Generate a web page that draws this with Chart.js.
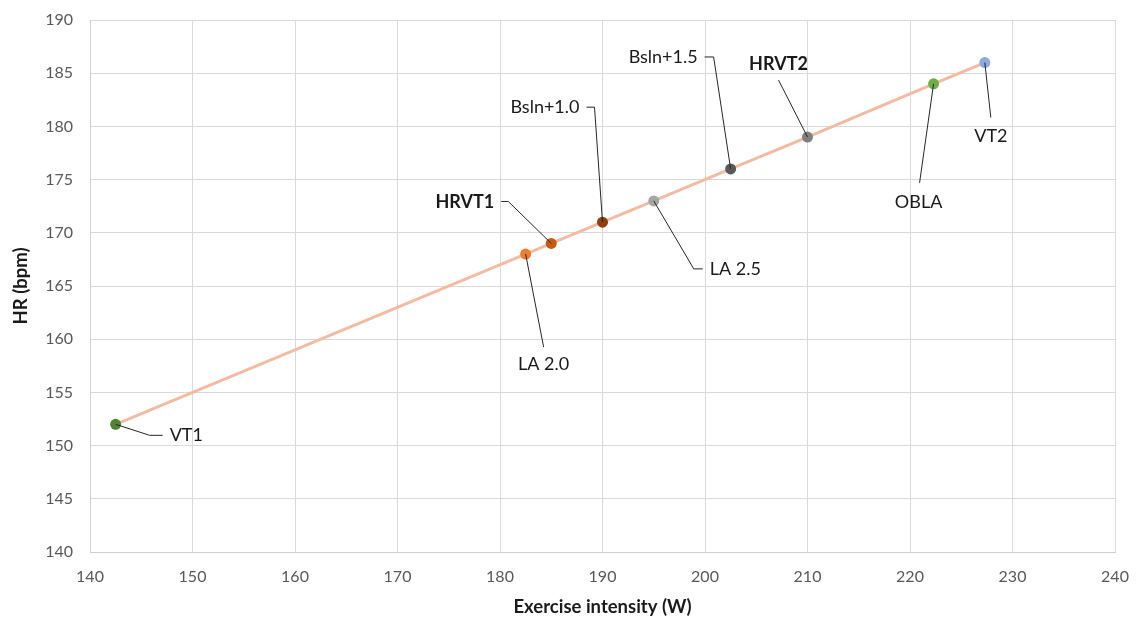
<!DOCTYPE html>
<html>
<head>
<meta charset="utf-8">
<script src="https://cdn.jsdelivr.net/npm/chart.js@4.4.1/dist/chart.umd.min.js"></script>
<style>
html,body{margin:0;padding:0;background:#fff;}
#wrap{width:1136px;height:621px;position:relative;}
</style>
</head>
<body>
<div id="wrap"><canvas id="c" width="1136" height="621"></canvas></div>
<script>
// ---- data ----
const pointNames = ["VT1","LA 2.0","HRVT1","Bsln+1.0","LA 2.5","Bsln+1.5","HRVT2","OBLA","VT2"];
const intensityW = [142.5,182.5,185,190,195,202.5,210,222.3,227.3];
const heartRate = [152,168,169,171,173,176,179,184,186];
const boldNames = ["HRVT1","HRVT2"];
const xTicks = [140,150,160,170,180,190,200,210,220,230,240];
const yTicks = [140,145,150,155,160,165,170,175,180,185,190];

// ---- styles ----
const pointColors = ["#548235","#ed7d31","#c55a11","#8e3f0a","#a5a5a5","#595959","#808080","#70ad47","#8faadc"];
// leader geometry, pixel offsets relative to the point: elbow, end, text anchor, alignment
const leaders = [
  {e:[34,11], f:[47,11], t:[54,11], a:"left"},
  {e:[18,93], f:[18,93], t:[18,110], a:"center"},
  {e:[-43,-42], f:[-50,-42], t:[-57,-41], a:"right"},
  {e:[-8,-115], f:[-16,-115], t:[-23,-115], a:"right"},
  {e:[40,68], f:[49,68], t:[56,68], a:"left"},
  {e:[-17,-112], f:[-26,-112], t:[-33,-112], a:"right"},
  {e:[-29,-57], f:[-29,-57], t:[-29,-73], a:"center"},
  {e:[-14,99], f:[-14,99], t:[-15,118], a:"center"},
  {e:[6,55], f:[6,55], t:[6,74], a:"center"}
];
const FONT = "Lato, 'Open Sans', sans-serif";

const labelPlugin = {
  id: "leaderLabels",
  afterDatasetsDraw(chart) {
    const ctx = chart.ctx;
    const meta = chart.getDatasetMeta(0);
    ctx.save();
    meta.data.forEach((pt, i) => {
      const L = leaders[i];
      const px = pt.x, py = pt.y;
      ctx.strokeStyle = "#262626";
      ctx.lineWidth = 1;
      ctx.beginPath();
      ctx.moveTo(px, py);
      ctx.lineTo(px + L.e[0], py + L.e[1]);
      ctx.lineTo(px + L.f[0], py + L.f[1]);
      ctx.stroke();
      const bold = boldNames.includes(pointNames[i]);
      ctx.font = (bold ? "bold " : "") + "18px " + FONT;
      ctx.fillStyle = "#1a1a1a";
      ctx.textAlign = L.a;
      ctx.textBaseline = "middle";
      ctx.fillText(pointNames[i], px + L.t[0], py + L.t[1]);
    });
    ctx.restore();
  }
};

new Chart(document.getElementById("c"), {
  type: "scatter",
  data: {
    datasets: [{
      data: intensityW.map((x, i) => ({x: x, y: heartRate[i]})),
      showLine: true,
      borderColor: "#f4bba3",
      borderWidth: 3,
      pointRadius: 5.5,
      pointHoverRadius: 5.5,
      pointBorderWidth: 0,
      pointBackgroundColor: pointColors,
      pointBorderColor: pointColors
    }]
  },
  options: {
    responsive: false,
    animation: false,
    layout: {padding: {left: 0, right: 21, top: 20, bottom: 0}},
    plugins: {legend: {display: false}, tooltip: {enabled: false}},
    scales: {
      x: {
        type: "linear", min: 140, max: 240,
        afterBuildTicks(s) { s.ticks = xTicks.map(v => ({value: v})); },
        afterFit(s) { s.height = 69; s.paddingLeft = 0; s.paddingRight = 0; },
        grid: {color: "#d9d9d9", lineWidth: 1, drawTicks: false},
        border: {color: "#d0d0d0"},
        ticks: {color: "#595959", font: {family: FONT, size: 16}, padding: 15},
        title: {display: true, text: "Exercise intensity (W)", color: "#1a1a1a",
                font: {family: FONT, size: 18.5, weight: "bold"}, padding: {top: 0, bottom: 3}}
      },
      y: {
        type: "linear", min: 140, max: 190,
        afterBuildTicks(s) { s.ticks = yTicks.map(v => ({value: v})); },
        afterFit(s) { s.width = 90; s.paddingTop = 0; s.paddingBottom = 0; },
        grid: {color: "#d9d9d9", lineWidth: 1, drawTicks: false},
        border: {color: "#d0d0d0"},
        ticks: {color: "#595959", font: {family: FONT, size: 16}, padding: 17},
        title: {display: true, text: "HR (bpm)", color: "#1a1a1a",
                font: {family: FONT, size: 18.5, weight: "bold"}, padding: {top: 10, bottom: 0}}
      }
    }
  },
  plugins: [labelPlugin]
});
</script>
</body>
</html>
